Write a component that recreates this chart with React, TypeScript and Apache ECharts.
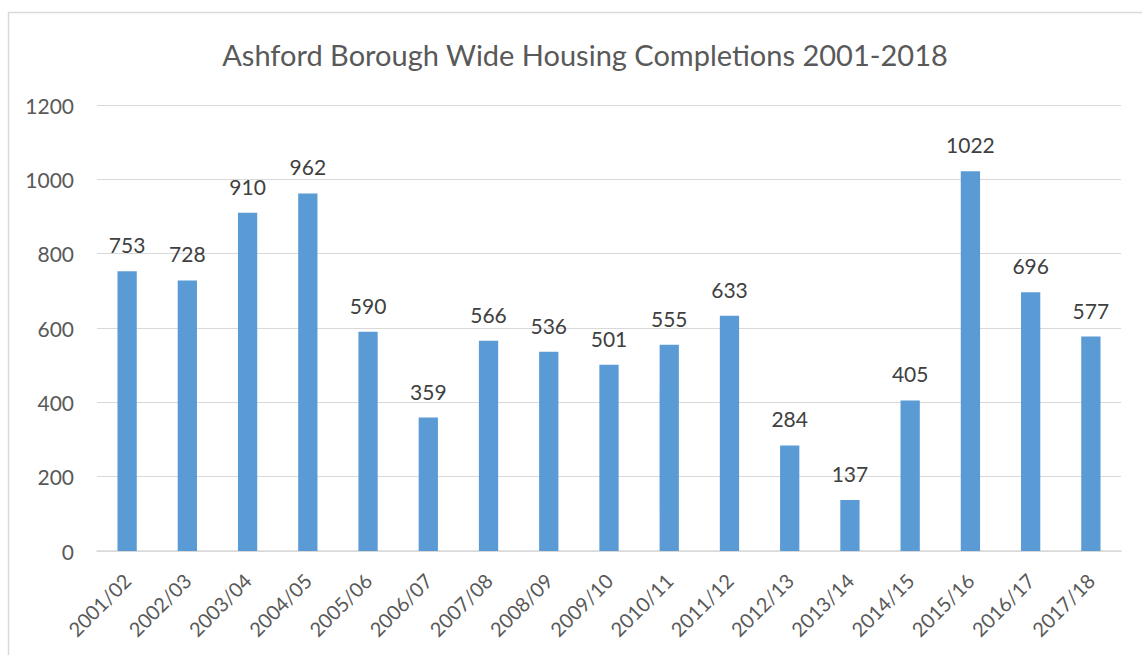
import React, { useEffect, useRef } from "react";
import * as echarts from "echarts";

const categories = ["2001/02","2002/03","2003/04","2004/05","2005/06","2006/07","2007/08","2008/09","2009/10","2010/11","2011/12","2012/13","2013/14","2014/15","2015/16","2016/17","2017/18"];
const completions = [753,728,910,962,590,359,566,536,501,555,633,284,137,405,1022,696,577];
const titleText = "Ashford Borough Wide Housing Completions 2001-2018";

export default function App() {
  const ref = useRef<HTMLDivElement>(null);
  useEffect(() => {
    if (!ref.current) return;
    const chart = echarts.init(ref.current, null, { renderer: "svg" });
    const font = "Lato, 'Open Sans', sans-serif";
    chart.setOption({
      animation: false,
      backgroundColor: "#ffffff",
      title: {
        text: titleText,
        left: 580,
        textAlign: "center",
        top: 35,
        textStyle: { fontFamily: font, fontSize: 29, fontWeight: "normal", color: "#595959" },
      },
      graphic: [
        {
          type: "rect",
          shape: { x: 8.5, y: 12.5, width: 1150, height: 700 },
          style: { fill: "none", stroke: "#d9d9d9", lineWidth: 1.5 },
          silent: true,
        },
      ],
      grid: { left: 97, right: 21, top: 105, bottom: 104, containLabel: false },
      xAxis: {
        type: "category",
        data: categories,
        axisLine: { lineStyle: { color: "#d9d9d9", width: 1.5 } },
        axisTick: { show: false },
        axisLabel: { rotate: 45, fontFamily: font, fontSize: 20, color: "#595959", margin: 26, interval: 0 },
      },
      yAxis: {
        type: "value",
        min: 0,
        max: 1200,
        interval: 200,
        axisLine: { show: false },
        axisTick: { show: false },
        splitLine: { lineStyle: { color: "#d9d9d9", width: 1.2 } },
        axisLabel: { fontFamily: font, fontSize: 21, color: "#595959", margin: 23, formatter: (v: number) => String(v) },
      },
      series: [
        {
          type: "bar",
          data: completions,
          barWidth: "32%",
          itemStyle: { color: "#5b9bd5" },
          label: { show: true, position: "top", distance: 16, fontFamily: font, fontSize: 21, color: "#404040" },
        },
      ],
    });
    return () => chart.dispose();
  }, []);
  return <div ref={ref} style={{ position: "fixed", left: 0, top: 0, width: 1142, height: 655 }} />;
}
